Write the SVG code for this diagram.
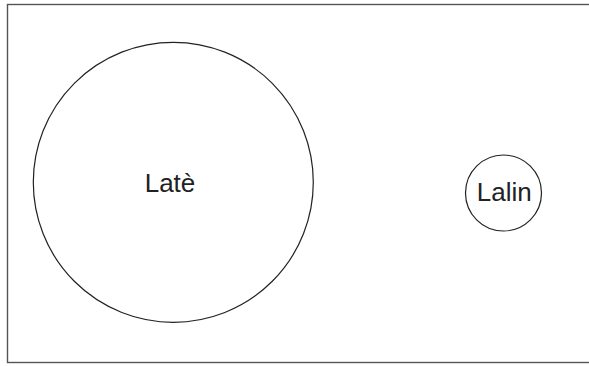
<svg xmlns="http://www.w3.org/2000/svg" width="589" height="366" viewBox="0 0 589 366">
<style>
.frame{fill:none;stroke:#555;stroke-width:1.4}
.node{fill:#fff;stroke:#222;stroke-width:1.2}
.lbl{font-family:"Liberation Sans",Arial,sans-serif;font-size:26px;fill:#222;text-anchor:middle}
</style>
<rect x="0" y="0" width="589" height="366" fill="#fff"/>
<rect class="frame" x="7.5" y="4.5" width="600" height="358"/>
<g id="late">
<circle class="node" cx="173.3" cy="182.3" r="140"/>
<text class="lbl" x="170" y="191.5">Latè</text>
</g>
<g id="lalin">
<circle class="node" cx="503.5" cy="193" r="38"/>
<text class="lbl" x="504.3" y="201">Lalin</text>
</g>
<g id="connectors"></g>
</svg>
